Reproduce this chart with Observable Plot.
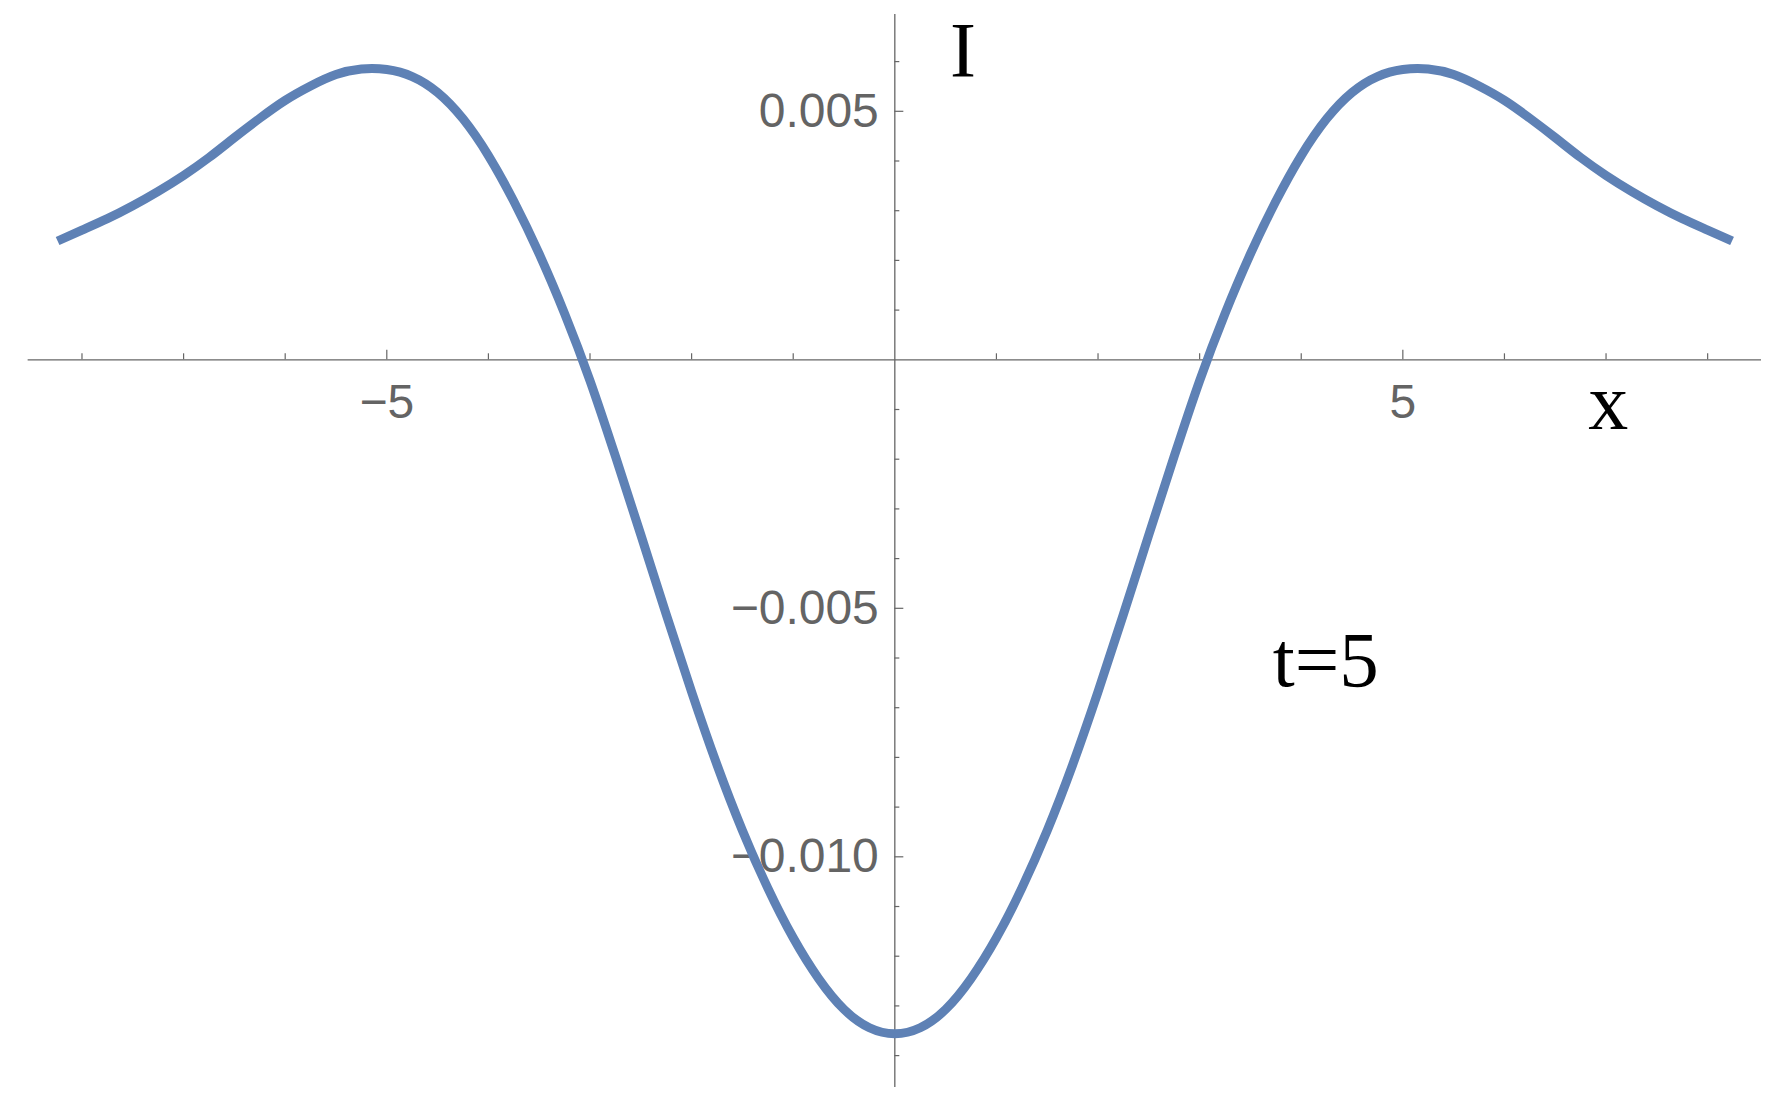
<!DOCTYPE html>
<html>
<head>
<meta charset="utf-8">
<script src="https://cdn.jsdelivr.net/npm/d3@7"></script>
<script src="https://cdn.jsdelivr.net/npm/@observablehq/plot@0.6"></script>
<style>
  html, body { margin: 0; padding: 0; background: #ffffff; }
  #chart svg { display: block; }
</style>
</head>
<body>
<div id="chart"></div>
<script>
// ---- data ----
const xValues = [-8.24,-8,-7.75,-7.5,-7.25,-7,-6.75,-6.5,-6.25,-6,-5.75,-5.5,-5.25,-5,-4.75,-4.5,-4.25,-4,-3.75,-3.5,-3.25,-3,-2.75,-2.5,-2.25,-2,-1.75,-1.5,-1.25,-1,-0.75,-0.5,-0.25,
  0,0.25,0.5,0.75,1,1.25,1.5,1.75,2,2.25,2.5,2.75,3,3.25,3.5,3.75,4,4.25,4.5,4.75,5,5.25,5.5,5.75,6,6.25,6.5,6.75,7,7.25,7.5,7.75,8,8.24];
const iValues = [0.00239,0.00261,0.00284,0.00310,0.00339,0.00371,0.00407,0.00447,0.00486,0.00522,0.00551,0.00574,0.00585,0.00584,0.00570,0.00538,0.00485,0.00411,0.00319,0.00213,0.00093,-0.00042,-0.00194,-0.00352,-0.00512,-0.00668,-0.00815,-0.00947,-0.01063,-0.01163,-0.01245,-0.01307,-0.01344,
  -0.01356,-0.01344,-0.01307,-0.01245,-0.01163,-0.01063,-0.00947,-0.00815,-0.00668,-0.00512,-0.00352,-0.00194,-0.00042,0.00093,0.00213,0.00319,0.00411,0.00485,0.00538,0.00570,0.00584,0.00585,0.00574,0.00551,0.00522,0.00486,0.00447,0.00407,0.00371,0.00339,0.00310,0.00284,0.00261,0.00239];

const xMajorTicks = [-5, 5];
const xMajorTickLabels = ["\u22125", "5"];
const xMinorTicks = [-8,-7,-6,-4,-3,-2,-1,1,2,3,4,6,7,8];
const yMajorTicks = [0.005, -0.005, -0.010];
const yMajorTickLabels = ["0.005", "\u22120.005", "\u22120.010"];
const yMinorTicks = [0.006,0.004,0.003,0.002,0.001,-0.001,-0.002,-0.003,-0.004,-0.006,-0.007,-0.008,-0.009,-0.011,-0.012,-0.013,-0.014];
const xAxisExtent = [-8.53, 8.53];
const yAxisExtent = [-0.01464, 0.00695];
const yAxisLabel = ["I"];
const xAxisLabel = ["x"];
const annotation = ["t=5"];

// ---- layout ----
const W = 1780, H = 1107;
const xDomain = [-8.802, 8.717];
const yDomain = [-0.015044, 0.0072294];
const pxPerX = W / (xDomain[1] - xDomain[0]);
const pxPerY = H / (yDomain[1] - yDomain[0]);
const axisColor = "#666666";
const labelColor = "#646464";
const sans = "'Liberation Sans', Arial, sans-serif";
const serif = "'Liberation Serif', 'Times New Roman', serif";

const curve = xValues.map((x, i) => ({x, y: iValues[i]}));
const xMajor = xMajorTicks.map((x, i) => ({x, label: xMajorTickLabels[i]}));
const yMajor = yMajorTicks.map((y, i) => ({y, label: yMajorTickLabels[i]}));

const chart = Plot.plot({
  width: W,
  height: H,
  margin: 0,
  x: {domain: xDomain, axis: null},
  y: {domain: yDomain, axis: null},
  marks: [
    // axes lines
    Plot.ruleY([0], {x1: xAxisExtent[0], x2: xAxisExtent[1], stroke: axisColor, strokeWidth: 1.3}),
    Plot.ruleX([0], {y1: yAxisExtent[0], y2: yAxisExtent[1], stroke: axisColor, strokeWidth: 1.3}),
    // x ticks (pointing up)
    Plot.ruleX(xMinorTicks, {x: d => d, y1: 0, y2: 6 / pxPerY, stroke: axisColor, strokeWidth: 1.2}),
    Plot.ruleX(xMajor, {x: "x", y1: 0, y2: 9.5 / pxPerY, stroke: axisColor, strokeWidth: 1.2}),
    // y ticks (pointing right)
    Plot.ruleY(yMinorTicks, {y: d => d, x1: 0, x2: 5 / pxPerX, stroke: axisColor, strokeWidth: 1.2}),
    Plot.ruleY(yMajor, {y: "y", x1: 0, x2: 9 / pxPerX, stroke: axisColor, strokeWidth: 1.2}),
    // tick labels
    Plot.text(xMajor, {x: "x", y: 0, text: "label", dy: 58, lineAnchor: "bottom", textAnchor: "middle",
      fill: labelColor, fontSize: 48, fontFamily: sans}),
    Plot.text(yMajor, {x: 0, y: "y", text: "label", dx: -16, lineAnchor: "middle", textAnchor: "end",
      fill: labelColor, fontSize: 48, fontFamily: sans}),
    // axis labels and annotation
    Plot.text(yAxisLabel, {x: 0.671, y: 0.005706, text: d => d, lineAnchor: "bottom", textAnchor: "middle",
      fill: "#000", fontSize: 78, fontFamily: serif}),
    Plot.text(xAxisLabel, {x: 7.022, y: -0.001388, text: d => d, lineAnchor: "bottom", textAnchor: "middle",
      fill: "#000", fontSize: 80, fontFamily: serif}),
    Plot.text(annotation, {x: 3.72, y: -0.006573, text: d => d, lineAnchor: "bottom", textAnchor: "start",
      fill: "#000", fontSize: 79, fontFamily: serif}),
    // the curve
    Plot.line(curve, {x: "x", y: "y", stroke: "#5E81B5", strokeWidth: 9, curve: "natural", strokeLinecap: "butt", strokeLinejoin: "round"})
  ]
});
document.getElementById("chart").appendChild(chart);
</script>
</body>
</html>
